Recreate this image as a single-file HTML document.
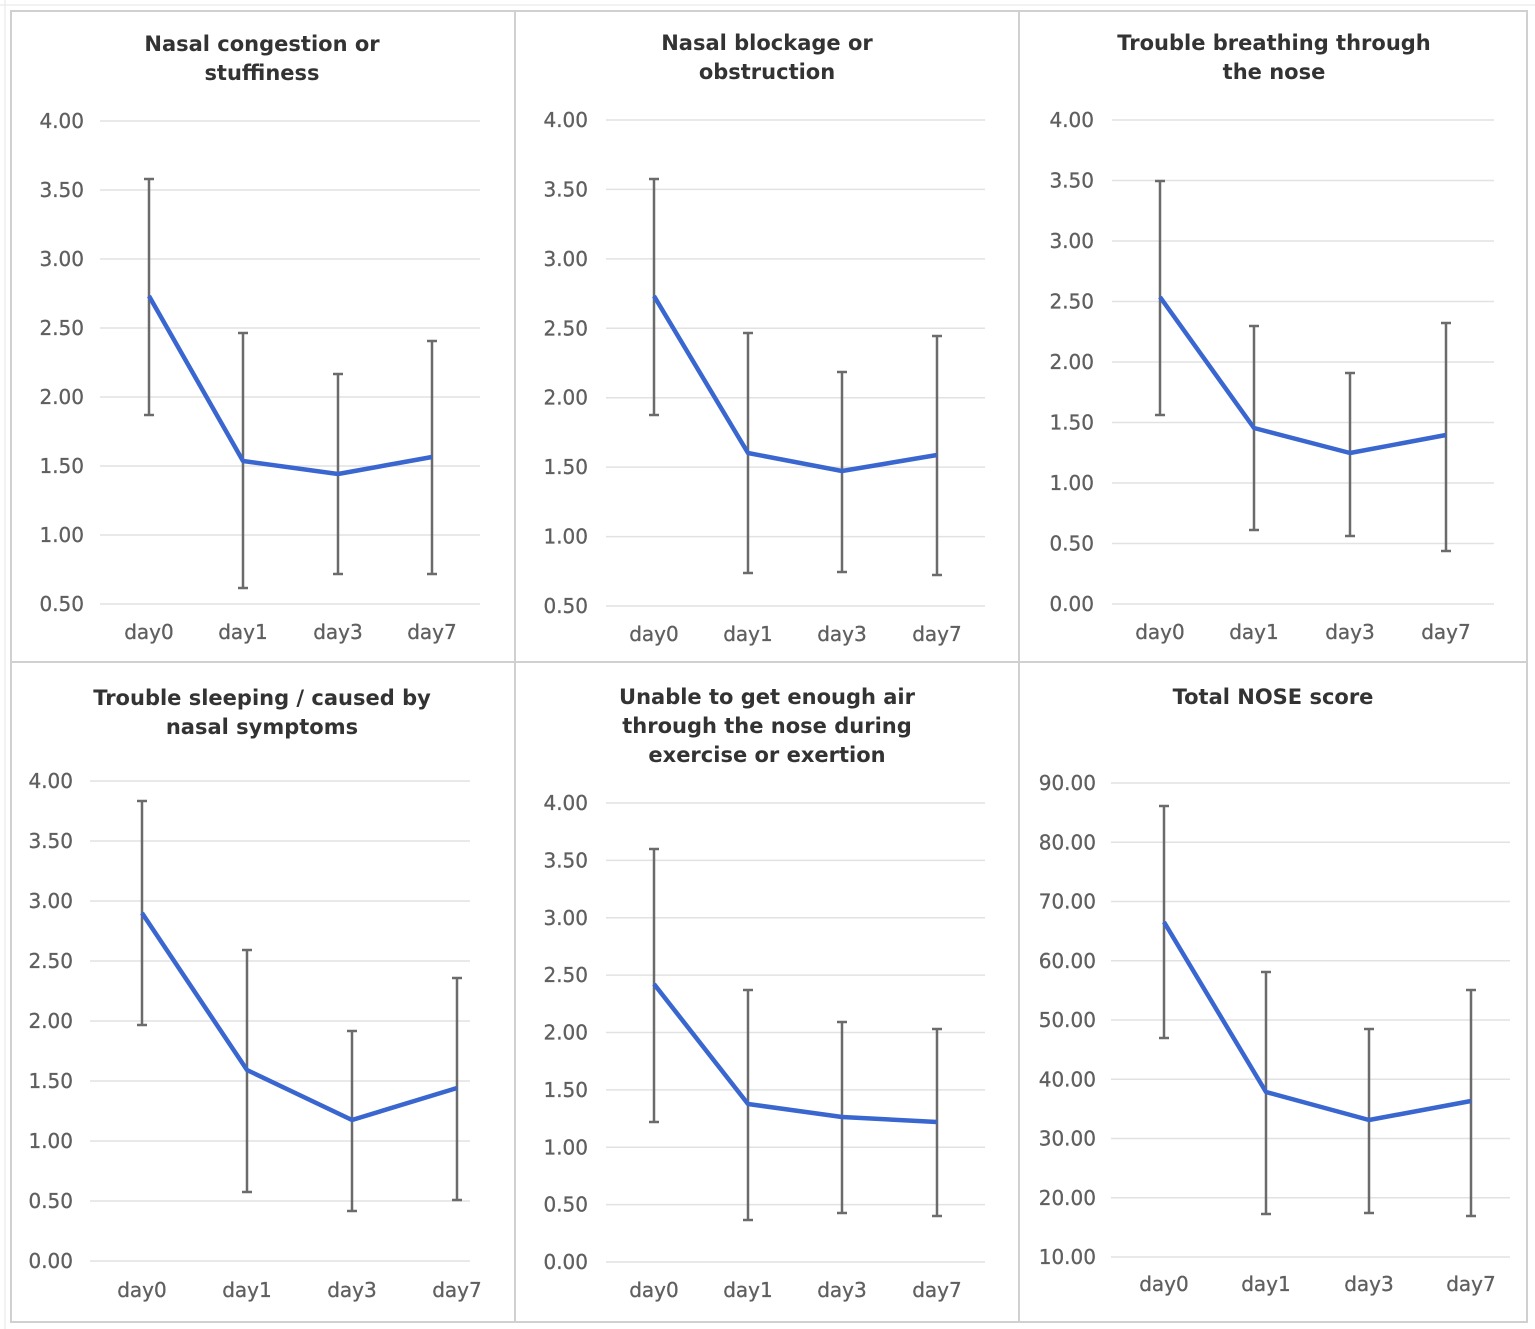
<!DOCTYPE html>
<html><head><meta charset="utf-8"><style>
html,body{margin:0;padding:0;background:#fff;}
svg{display:block;}
text{font-family:"DejaVu Sans","Liberation Sans",sans-serif;}
.t{font-weight:bold;font-size:21px;fill:#333;text-anchor:middle;}
.y{font-size:20px;fill:#5f5f5f;text-anchor:end;stroke:#5f5f5f;stroke-width:0.3;}
.x{font-size:20px;fill:#5f5f5f;text-anchor:middle;stroke:#5f5f5f;stroke-width:0.3;}
</style></head><body>
<svg id="s" width="1535" height="1329" xmlns="http://www.w3.org/2000/svg">
<rect width="1535" height="1329" fill="#fff"/>
<g stroke="#e6e6e6" stroke-width="1">
<line x1="0" y1="5" x2="1535" y2="5"/>
<line x1="5" y1="0" x2="5" y2="1329"/>
</g>
<g stroke="#d0d0d0" stroke-width="2" fill="none">
<rect x="11" y="11" width="1516" height="1311"/>
<line x1="515" y1="11" x2="515" y2="1322"/>
<line x1="1019" y1="11" x2="1019" y2="1322"/>
<line x1="11" y1="662" x2="1527" y2="662"/>
</g>
<g id="g"></g>
</svg>
<script>
var P=[
{tc:262,title:["Nasal congestion or","stuffiness"],ty:51,lx:84,x0:100,x1:480,ticks:["4.00","3.50","3.00","2.50","2.00","1.50","1.00","0.50"],gy0:121,gy1:604,cx:[149,243,338,432],m:[296,461,474,457],hi:[179,333,374,341],lo:[415,588,574,574],xl:639},
{tc:767,title:["Nasal blockage or","obstruction"],ty:50,lx:588,x0:606,x1:985,ticks:["4.00","3.50","3.00","2.50","2.00","1.50","1.00","0.50"],gy0:120,gy1:606,cx:[654,748,842,937],m:[296,453,471,455],hi:[179,333,372,336],lo:[415,573,572,575],xl:641},
{tc:1274,title:["Trouble breathing through","the nose"],ty:50,lx:1094,x0:1112,x1:1494,ticks:["4.00","3.50","3.00","2.50","2.00","1.50","1.00","0.50","0.00"],gy0:120,gy1:604,cx:[1160,1254,1350,1446],m:[297,428,453,435],hi:[181,326,373,323],lo:[415,530,536,551],xl:639},
{tc:262,title:["Trouble sleeping / caused by","nasal symptoms"],ty:705,lx:73,x0:90,x1:470,ticks:["4.00","3.50","3.00","2.50","2.00","1.50","1.00","0.50","0.00"],gy0:781,gy1:1261,cx:[142,247,352,457],m:[913,1070,1120,1088],hi:[801,950,1031,978],lo:[1025,1192,1211,1200],xl:1297},
{tc:767,title:["Unable to get enough air","through the nose during","exercise or exertion"],ty:704,lx:588,x0:606,x1:985,ticks:["4.00","3.50","3.00","2.50","2.00","1.50","1.00","0.50","0.00"],gy0:803,gy1:1262,cx:[654,748,842,937],m:[984,1104,1117,1122],hi:[849,990,1022,1029],lo:[1122,1220,1213,1216],xl:1297},
{tc:1273,title:["Total NOSE score"],ty:704,lx:1096,x0:1111,x1:1510,ticks:["90.00","80.00","70.00","60.00","50.00","40.00","30.00","20.00","10.00"],gy0:783,gy1:1257,cx:[1164,1266,1369,1471],m:[922,1092,1120,1101],hi:[806,972,1029,990],lo:[1038,1214,1213,1216],xl:1291}
];
var h="";
P.forEach(function(p){
 p.title.forEach(function(t,i){h+='<text class="t" x="'+p.tc+'" y="'+(p.ty+i*29)+'">'+t+'</text>';});
 var n=p.ticks.length,st=(p.gy1-p.gy0)/(n-1);
 p.ticks.forEach(function(t,i){var y=p.gy0+i*st;
  h+='<line x1="'+p.x0+'" y1="'+y+'" x2="'+p.x1+'" y2="'+y+'" stroke="#e2e2e2" stroke-width="1.5"/>';
  h+='<text class="y" x="'+p.lx+'" y="'+(y+7)+'">'+t+'</text>';});
 ["day0","day1","day3","day7"].forEach(function(d,i){h+='<text class="x" x="'+p.cx[i]+'" y="'+p.xl+'">'+d+'</text>';});
 for(var i=0;i<4;i++){var x=p.cx[i];
  h+='<line x1="'+x+'" y1="'+p.hi[i]+'" x2="'+x+'" y2="'+p.lo[i]+'" stroke="#6b6b6b" stroke-width="2.5"/>';
  h+='<line x1="'+(x-5)+'" y1="'+p.hi[i]+'" x2="'+(x+5)+'" y2="'+p.hi[i]+'" stroke="#6b6b6b" stroke-width="2.5"/>';
  h+='<line x1="'+(x-5)+'" y1="'+p.lo[i]+'" x2="'+(x+5)+'" y2="'+p.lo[i]+'" stroke="#6b6b6b" stroke-width="2.5"/>';}
 var pts=p.cx.map(function(x,i){return x+","+p.m[i];}).join(" ");
 h+='<polyline points="'+pts+'" fill="none" stroke="#3a66d0" stroke-width="4.5" stroke-linejoin="round"/>';
});
document.getElementById("g").innerHTML=h;
</script>
</body></html>
